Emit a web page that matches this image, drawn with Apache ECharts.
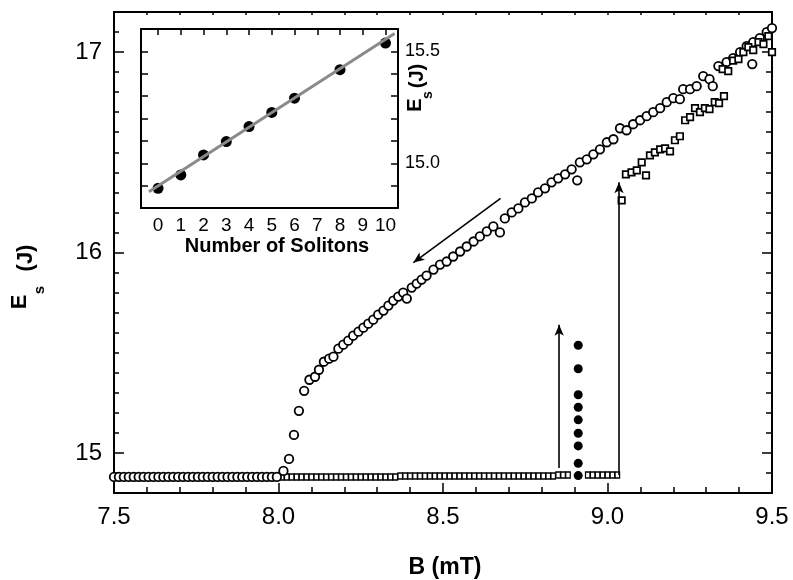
<!DOCTYPE html>
<html>
<head>
<meta charset="utf-8">
<script src="https://cdn.jsdelivr.net/npm/echarts@6/dist/echarts.min.js"></script>
<style>
  html, body { margin: 0; padding: 0; background: #fff; }
  #chart { width: 793px; height: 580px; }
</style>
</head>
<body>
<div id="chart"></div>
<script>
// main plot: field sweep down (open circles)
const sweepDown = [
  [7.500,14.88],[7.515,14.88],[7.530,14.88],[7.545,14.88],[7.560,14.88],[7.575,14.88],[7.590,14.88],
  [7.605,14.88],[7.620,14.88],[7.635,14.88],[7.650,14.88],[7.665,14.88],[7.680,14.88],[7.695,14.88],
  [7.710,14.88],[7.725,14.88],[7.740,14.88],[7.755,14.88],[7.770,14.88],[7.785,14.88],[7.800,14.88],
  [7.815,14.88],[7.830,14.88],[7.845,14.88],[7.860,14.88],[7.875,14.88],[7.890,14.88],[7.905,14.88],
  [7.920,14.88],[7.935,14.88],[7.950,14.88],[7.965,14.88],[7.980,14.88],[7.995,14.88],
  [8.015,14.91],[8.032,14.97],[8.047,15.09],[8.062,15.21],[8.078,15.31],[8.094,15.365],[8.111,15.38],
  [8.123,15.415],[8.138,15.455],[8.154,15.47],[8.167,15.48],[8.182,15.52],[8.197,15.54],[8.212,15.56],
  [8.227,15.585],[8.243,15.605],[8.258,15.625],[8.273,15.645],[8.288,15.665],[8.303,15.69],[8.319,15.71],
  [8.334,15.735],[8.349,15.76],[8.364,15.78],[8.379,15.80],[8.390,15.77],[8.405,15.825],[8.420,15.845],
  [8.435,15.865],[8.450,15.885],[8.471,15.915],[8.491,15.94],[8.511,15.955],[8.531,15.98],[8.552,16.005],
  [8.572,16.03],[8.593,16.055],[8.612,16.08],[8.633,16.105],[8.653,16.13],[8.673,16.10],[8.688,16.17],
  [8.709,16.20],[8.729,16.22],[8.749,16.25],[8.770,16.27],[8.789,16.30],[8.810,16.32],[8.830,16.35],
  [8.850,16.37],[8.871,16.39],[8.891,16.415],[8.908,16.36],[8.916,16.45],[8.937,16.465],[8.957,16.49],
  [8.977,16.515],[8.998,16.55],[9.018,16.565],[9.038,16.62],[9.058,16.61],[9.078,16.64],[9.099,16.66],
  [9.119,16.68],[9.139,16.70],[9.160,16.72],[9.180,16.75],[9.200,16.77],[9.220,16.765],[9.230,16.815],
  [9.251,16.815],[9.271,16.83],[9.291,16.88],[9.310,16.865],[9.320,16.83],[9.337,16.93],[9.362,16.95],
  [9.382,16.97],[9.403,17.00],[9.423,17.03],[9.440,16.94],[9.443,17.05],[9.463,17.07],[9.484,17.10],
  [9.500,17.12]
];

// main plot: field sweep up, baseline part (small squares)
const sweepUpLow = [
  [7.500,14.88],[7.515,14.88],[7.530,14.88],[7.545,14.88],[7.560,14.88],[7.575,14.88],[7.590,14.88],
  [7.605,14.88],[7.620,14.88],[7.635,14.88],[7.650,14.88],[7.665,14.88],[7.680,14.88],[7.695,14.88],
  [7.710,14.88],[7.725,14.88],[7.740,14.88],[7.755,14.88],[7.770,14.88],[7.785,14.88],[7.800,14.88],
  [7.815,14.88],[7.830,14.88],[7.845,14.88],[7.860,14.88],[7.875,14.88],[7.890,14.88],[7.905,14.88],
  [7.920,14.88],[7.935,14.88],[7.950,14.88],[7.965,14.88],[7.980,14.88],[7.995,14.88],[8.010,14.88],
  [8.025,14.88],[8.040,14.88],[8.055,14.88],[8.070,14.88],[8.085,14.88],[8.100,14.88],[8.115,14.88],
  [8.130,14.88],[8.145,14.88],[8.160,14.88],[8.175,14.88],[8.190,14.88],[8.205,14.88],[8.220,14.88],
  [8.235,14.88],[8.250,14.88],[8.265,14.88],[8.280,14.88],[8.295,14.88],[8.310,14.88],[8.325,14.88],
  [8.340,14.88],[8.355,14.88],[8.370,14.885],[8.385,14.885],[8.400,14.885],[8.415,14.885],[8.430,14.885],
  [8.445,14.885],[8.460,14.885],[8.475,14.885],[8.490,14.885],[8.505,14.885],[8.520,14.885],[8.535,14.885],
  [8.550,14.885],[8.565,14.885],[8.580,14.885],[8.595,14.885],[8.610,14.885],[8.625,14.885],[8.640,14.885],
  [8.655,14.885],[8.670,14.885],[8.685,14.885],[8.700,14.885],[8.715,14.885],[8.730,14.885],[8.745,14.885],
  [8.760,14.885],[8.775,14.885],[8.790,14.885],[8.805,14.885],[8.820,14.885],[8.835,14.885],[8.850,14.89],
  [8.865,14.89],[8.880,14.89],[8.940,14.89],[8.955,14.89],[8.970,14.89],[8.985,14.89],[9.000,14.89],
  [9.015,14.89],[9.030,14.89]
];

// main plot: field sweep up, after the jump (squares)
const sweepUpHigh = [
  [9.043,16.26],[9.056,16.39],[9.073,16.40],[9.089,16.41],[9.104,16.45],[9.117,16.385],[9.129,16.485],
  [9.144,16.50],[9.160,16.515],[9.175,16.52],[9.190,16.505],[9.205,16.56],[9.220,16.58],[9.236,16.66],
  [9.251,16.675],[9.266,16.72],[9.281,16.70],[9.296,16.72],[9.310,16.715],[9.326,16.75],[9.339,16.745],
  [9.354,16.78],[9.350,16.915],[9.367,16.905],[9.382,16.957],[9.398,16.965],[9.413,17.00],[9.428,17.025],
  [9.443,17.01],[9.459,17.05],[9.474,17.04],[9.489,17.08],[9.500,17.00]
];

// main plot: filled circles at one field
const filledB = [8.911, 8.911, 8.911, 8.911, 8.911, 8.911, 8.911, 8.911, 8.911];
const filledE = [14.887, 14.948, 15.035, 15.098, 15.165, 15.228, 15.29, 15.42, 15.537];

// arrows [x1, y1, x2, y2]
const arrows = [
  [8.675, 16.27, 8.41, 15.95],
  [8.853, 14.925, 8.853, 15.64],
  [9.035, 14.89, 9.035, 16.35]
];

// inset
const solitonN = [0, 1, 2, 3, 4, 5, 6, 8, 10];
const solitonE = [14.888, 14.948, 15.037, 15.097, 15.164, 15.227, 15.291, 15.418, 15.537];
const fitN = [-0.4, 10.4];
const fitE = [14.873, 15.58];

// tick values
const mainYMajor = [15, 16, 17];
const mainYMinor = [14.8, 14.9, 15.1, 15.2, 15.3, 15.4, 15.5, 15.6, 15.7, 15.8, 15.9,
  16.1, 16.2, 16.3, 16.4, 16.5, 16.6, 16.7, 16.8, 16.9, 17.1, 17.2];
const insetXTicks = [0, 1, 2, 3, 4, 5, 6, 7, 8, 9, 10];
const insetYTicks = [14.8, 14.9, 15.0, 15.1, 15.2, 15.3, 15.4, 15.5, 15.6];
const insetYLabels = [15.0, 15.5];

const FONT = '"Liberation Sans", Arial, sans-serif';
const axisLine = { show: true, onZero: false, lineStyle: { color: '#000', width: 2 } };
const noLabel = { show: false };
const noSplit = { show: false };

function tick(len, values) {
  const t = { show: true, inside: true, length: len, lineStyle: { color: '#000', width: 1.5 } };
  if (values) t.customValues = values;
  return t;
}

function text(str, x, y, size, rot) {
  return {
    type: 'text', x: x, y: y, rotation: rot || 0, z: 100,
    style: {
      text: str, fill: '#000', font: 'bold ' + size + 'px ' + FONT,
      textAlign: 'center', textVerticalAlign: 'middle'
    }
  };
}

let chart = echarts.init(document.getElementById('chart'), null, { renderer: 'canvas' });

const option = {
  animation: false,
  backgroundColor: '#fff',
  textStyle: { fontFamily: FONT },
  grid: [
    { left: 114, top: 12, width: 658, height: 481 },
    { left: 141, top: 29, width: 257, height: 179, backgroundColor: '#fff', show: true, borderWidth: 0, z: 5 }
  ],
  xAxis: [
    {
      gridIndex: 0, type: 'value', min: 7.5, max: 9.5, interval: 0.5, position: 'bottom',
      axisLine: axisLine, axisTick: tick(10),
      minorTick: { show: true, splitNumber: 5, length: 6, lineStyle: { color: '#000', width: 1.5 } },
      axisLabel: { fontSize: 24, color: '#000', fontFamily: FONT, margin: 12, formatter: v => v.toFixed(1) },
      splitLine: noSplit, minorSplitLine: noSplit
    },
    {
      gridIndex: 0, type: 'value', min: 7.5, max: 9.5, interval: 0.5, position: 'top',
      axisLine: axisLine, axisTick: tick(3),
      minorTick: { show: true, splitNumber: 5, length: 3, lineStyle: { color: '#000', width: 1.5 } },
      axisLabel: noLabel, splitLine: noSplit
    },
    {
      gridIndex: 1, type: 'value', min: -0.75, max: 10.55, position: 'bottom', z: 6,
      axisLine: axisLine, axisTick: { show: false },
      axisLabel: { customValues: insetXTicks, fontSize: 19, color: '#000', fontFamily: FONT, margin: 8 },
      splitLine: noSplit
    },
    {
      gridIndex: 1, type: 'value', min: -0.75, max: 10.55, position: 'top', z: 6,
      axisLine: axisLine, axisTick: tick(6, insetXTicks),
      axisLabel: noLabel, splitLine: noSplit
    }
  ],
  yAxis: [
    {
      gridIndex: 0, type: 'value', min: 14.8, max: 17.2, position: 'left',
      axisLine: axisLine, axisTick: tick(10, mainYMajor),
      axisLabel: { customValues: mainYMajor, fontSize: 24, color: '#000', fontFamily: FONT, margin: 12 },
      splitLine: noSplit
    },
    {
      gridIndex: 0, type: 'value', min: 14.8, max: 17.2, position: 'left',
      axisLine: { show: false }, axisTick: tick(5, mainYMinor),
      axisLabel: noLabel, splitLine: noSplit
    },
    {
      gridIndex: 0, type: 'value', min: 14.8, max: 17.2, position: 'right',
      axisLine: axisLine, axisTick: tick(10, mainYMajor),
      axisLabel: noLabel, splitLine: noSplit
    },
    {
      gridIndex: 0, type: 'value', min: 14.8, max: 17.2, position: 'right',
      axisLine: { show: false }, axisTick: tick(6, mainYMinor),
      axisLabel: noLabel, splitLine: noSplit
    },
    {
      gridIndex: 1, type: 'value', min: 14.8, max: 15.6, position: 'left', z: 6,
      axisLine: axisLine, axisTick: tick(7, insetYTicks),
      axisLabel: noLabel, splitLine: noSplit
    },
    {
      gridIndex: 1, type: 'value', min: 14.8, max: 15.6, position: 'right', z: 6,
      axisLine: axisLine, axisTick: tick(7, insetYTicks),
      axisLabel: { customValues: insetYLabels, fontSize: 18, color: '#000', fontFamily: FONT, margin: 7,
        formatter: v => v.toFixed(1) },
      splitLine: noSplit
    }
  ],
  series: [
    {
      type: 'scatter', xAxisIndex: 0, yAxisIndex: 0, data: sweepUpLow,
      symbol: 'rect', symbolSize: [4.5, 6],
      itemStyle: { color: '#fff', borderColor: '#000', borderWidth: 1.4, opacity: 1 }
    },
    {
      type: 'scatter', xAxisIndex: 0, yAxisIndex: 0, data: sweepDown,
      symbol: 'circle', symbolSize: 8.5,
      itemStyle: { color: '#fff', borderColor: '#000', borderWidth: 1.8, opacity: 1 }
    },
    {
      type: 'scatter', xAxisIndex: 0, yAxisIndex: 0, data: sweepUpHigh,
      symbol: 'rect', symbolSize: 6.5,
      itemStyle: { color: '#fff', borderColor: '#000', borderWidth: 1.7, opacity: 1 }
    },
    {
      type: 'scatter', xAxisIndex: 0, yAxisIndex: 0,
      data: filledB.map((b, i) => [b, filledE[i]]),
      symbol: 'circle', symbolSize: 9, itemStyle: { color: '#000', opacity: 1 },
      markLine: {
        silent: true, symbol: ['none', 'arrow'], symbolSize: [7, 11],
        label: { show: false },
        lineStyle: { color: '#000', width: 1.6, type: 'solid', opacity: 1 },
        data: arrows.map(a => [{ coord: [a[0], a[1]] }, { coord: [a[2], a[3]] }])
      }
    },
    {
      type: 'scatter', xAxisIndex: 2, yAxisIndex: 4, z: 7,
      data: solitonN.map((n, i) => [n, solitonE[i]]),
      symbol: 'circle', symbolSize: 11, itemStyle: { color: '#000', opacity: 1 }
    },
    {
      type: 'line', xAxisIndex: 2, yAxisIndex: 4, z: 8,
      data: fitN.map((n, i) => [n, fitE[i]]),
      symbol: 'none', lineStyle: { color: '#8a8a8a', width: 3 }
    }
  ],
  graphic: [
    text('B (mT)', 445, 568, 23, 0),
    text('Number of Solitons', 277, 246, 20, 0),
    text('E', 20, 302, 22, Math.PI / 2),
    text('s', 40, 290, 15, Math.PI / 2),
    text('(J)', 26, 258, 22, Math.PI / 2),
    text('E', 415, 105, 20, Math.PI / 2),
    text('s', 428, 95, 14, Math.PI / 2),
    text('(J)', 417, 76, 20, Math.PI / 2)
  ]
};

chart.setOption(option);
</script>
</body>
</html>
